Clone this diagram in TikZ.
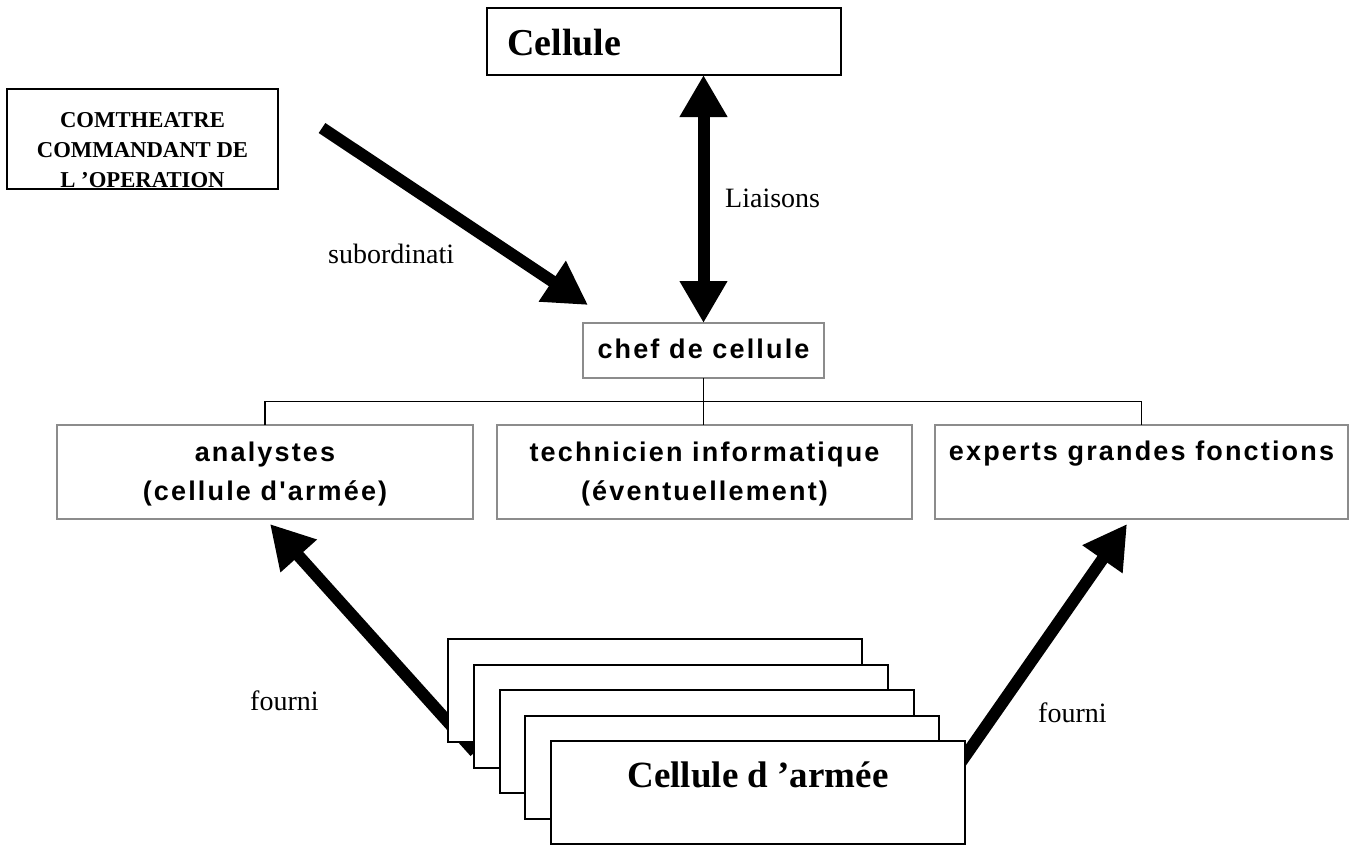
\documentclass[tikz,border=0pt]{standalone}
\usepackage{fontspec}
\setmainfont{Liberation Serif}
\newfontfamily\orgfont{Liberation Sans}[LetterSpace=8]
\usetikzlibrary{arrows.meta,calc}
\definecolor{orggray}{RGB}{140,140,140}
\begin{document}
\begin{tikzpicture}[x=1pt,y=-1pt,
  bigarrow/.style={line width=12pt,-{Triangle[length=43pt,width=46pt]}},
  dblarrow/.style={line width=12pt,{Triangle[length=42pt,width=45pt]}-{Triangle[length=42pt,width=45pt]}},
  serifbox/.style={draw=black,line width=2pt,fill=white,inner sep=0pt,outer sep=0pt,anchor=north west},
  orgbox/.style={draw=orggray,line width=2pt,fill=white,inner sep=0pt,outer sep=0pt,anchor=north west},
  orgtext/.style={font=\orgfont\bfseries\fontsize{27}{30}\selectfont,inner sep=0pt,anchor=base},
  labeltext/.style={font=\fontsize{28}{32}\selectfont,inner sep=0pt,anchor=base west},
  comtext/.style={font=\bfseries\fontsize{22.7}{26}\selectfont,inner sep=0pt,anchor=base},
  orgline/.style={line width=1.5pt,black}]
\useasboundingbox (0,0) rectangle (1356,846);
\fill[white] (0,0) rectangle (1356,846);

% boxes
\node[serifbox,minimum width=354pt,minimum height=67pt] (cellule) at (487,8) {};
\node[font=\bfseries\fontsize{38}{40}\selectfont,anchor=base west,inner sep=0pt] (celluletxt) at (507,55) {Cellule};

\node[serifbox,minimum width=271pt,minimum height=100pt] (comth) at (7,89) {};
\begin{scope}
\clip (comth.north west) rectangle (comth.south east);
\node[comtext] (c1) at (142.5,127) {COMTHEATRE};
\node[comtext] (c2) at (142.5,157) {COMMANDANT DE};
\node[comtext] (c3) at (142.5,187) {L ’OPERATION};
\end{scope}
\draw[black,line width=2pt] (comth.north west) rectangle (comth.south east);

\node[orgbox,minimum width=241pt,minimum height=55pt] (chef) at (583,323) {};
\node[orgtext] (cheftxt) at (703.5,358) {chef de cellule};

\node[orgbox,minimum width=416pt,minimum height=94pt] (analystes) at (57,425) {};
\node[orgbox,minimum width=415pt,minimum height=94pt] (technicien) at (497,425) {};
\node[orgbox,minimum width=413pt,minimum height=94pt] (experts) at (935,425) {};
\node[orgtext] (a1) at ($(analystes.north)+(0,36)$) {analystes};
\node[orgtext] (a2) at ($(analystes.north)+(0,75)$) {(cellule d'armée)};
\node[orgtext] (t1) at ($(technicien.north)+(0,36)$) {technicien informatique};
\node[orgtext] (t2) at ($(technicien.north)+(0,75)$) {(éventuellement)};
\node[orgtext] (e1) at ($(experts.north)+(0,35)$) {experts grandes fonctions};

% org connectors
\coordinate (bus) at ($(chef.south)!0.5!(chef.south |- technicien.north)$);
\draw[orgline] (chef.south) -- (chef.south |- technicien.north);
\draw[orgline] (analystes.north) |- (bus) -| (experts.north);

% arrows
\draw[dblarrow] (chef.north |- cellule.south) -- (chef.north);
\node[labeltext] (liaisons) at (725,207) {Liaisons};

\coordinate (subtail) at (322,128);
\draw[bigarrow] (subtail) -- ($(chef.north west)+(5,-18)$);
\node[labeltext] (subord) at (328,263) {subordinati};

\coordinate (ltail) at (475,752);
\coordinate (rtail) at (945,785);
\draw[bigarrow] (ltail) -- ($(analystes.south)+(5,5)$);
\draw[bigarrow] (rtail) -- ($(experts.south)+(-14.5,5)$);
\node[labeltext] (fourniL) at (250,710) {fourni};
\node[labeltext] (fourniR) at (1038,722) {fourni};

% stack of cellules d'armee
\node[serifbox,minimum width=414pt,minimum height=103pt] (s1) at (448,639) {};
\node[serifbox,minimum width=414pt,minimum height=103pt] (s2) at (474,665) {};
\node[serifbox,minimum width=414pt,minimum height=103pt] (s3) at (500,690) {};
\node[serifbox,minimum width=414pt,minimum height=103pt] (s4) at (525,716) {};
\node[serifbox,minimum width=414pt,minimum height=103pt] (s5) at (551,741) {};
\node[font=\bfseries\fontsize{37}{40}\selectfont,anchor=base,inner sep=0pt] (armtxt) at ($(s5.north)+(0,46)$) {Cellule d ’armée};
\end{tikzpicture}
\end{document}
